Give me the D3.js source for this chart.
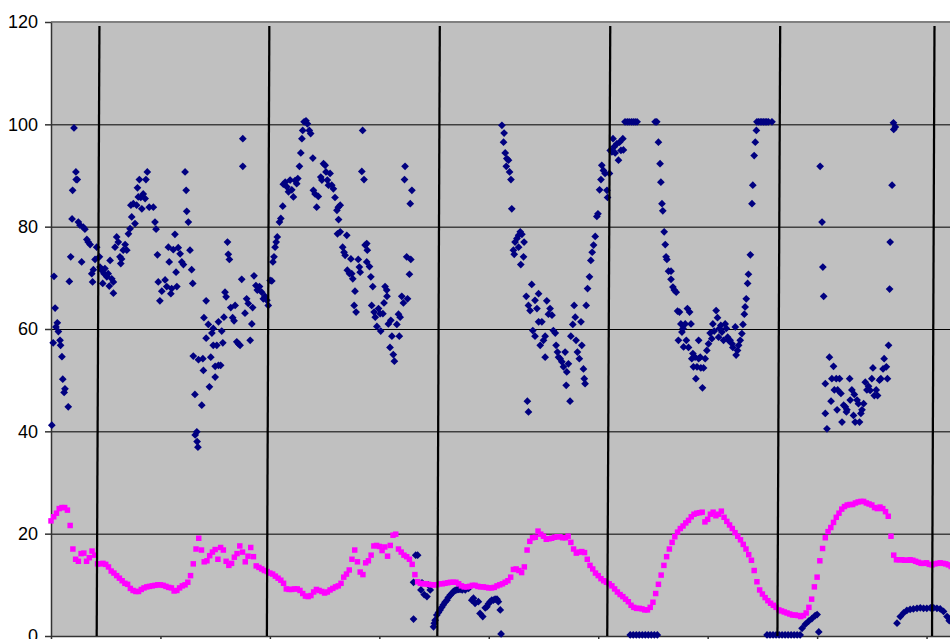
<!DOCTYPE html>
<html>
<head>
<meta charset="utf-8">
<script src="https://cdn.jsdelivr.net/npm/d3@7"></script>
<style>
  html, body { margin: 0; padding: 0; background: #ffffff; }
  svg { display: block; }
  .axis text { font-family: "Liberation Sans", Arial, sans-serif; font-size: 18px; fill: #000; }
</style>
</head>
<body>
<svg id="chart" width="950" height="639"></svg>
<script>
// Temperature readings, one per sample step (sample index = position in array)
const temperature = [
  22.5,23.3,24.0,24.9,25.1,25.1,24.6,21.6,17.0,15.0,
  14.6,16.1,16.2,14.6,15.3,16.6,15.8,14.1,14.1,14.2,
  14.0,13.5,12.7,12.3,11.8,11.3,10.8,10.3,10.1,9.3,
  8.9,8.7,8.7,9.1,9.4,9.6,9.7,9.8,9.9,10.0,
  10.0,9.9,9.7,9.5,9.4,8.8,8.9,9.4,9.8,10.0,
  10.5,11.8,14.1,17.0,19.1,16.8,14.5,14.7,15.7,16.4,
  16.9,15.0,17.3,16.8,14.6,13.8,14.2,15.4,16.1,17.6,
  16.4,14.5,15.6,17.3,15.5,13.7,13.4,13.1,12.8,12.6,
  12.3,12.1,11.7,11.3,10.9,10.3,9.2,9.1,9.1,9.2,
  9.2,8.9,8.3,7.8,7.7,7.9,8.6,9.1,8.9,8.7,
  8.4,8.6,9.0,9.3,9.6,9.8,10.3,11.5,12.1,12.9,
  15.0,16.8,14.5,12.5,12.0,14.3,14.7,15.8,17.6,17.7,
  17.5,16.7,17.4,15.6,17.7,19.7,19.9,17.0,16.4,15.8,
  15.5,15.0,14.0,12.0,10.6,10.3,10.2,10.2,10.1,10.0,
  10.0,10.0,10.2,10.2,10.3,10.4,10.5,10.5,10.5,10.2,
  9.8,9.6,9.6,9.7,9.9,9.9,9.7,9.6,9.6,9.5,
  9.4,9.4,9.5,9.8,10.0,10.2,10.5,10.8,11.5,13.0,
  13.1,12.8,12.4,13.5,16.8,18.5,19.2,19.3,20.5,19.9,
  19.5,18.9,19.0,19.1,19.3,19.4,19.4,19.2,19.2,19.5,
  18.3,17.0,16.2,16.4,16.5,16.3,15.0,13.8,13.1,12.3,
  11.8,11.2,10.8,10.5,10.2,9.8,9.2,8.6,8.1,7.7,
  7.2,6.7,6.0,5.6,5.4,5.4,5.3,5.1,5.1,5.6,
  6.6,8.3,10.1,11.9,13.8,15.5,17.0,18.3,19.4,20.3,
  21.0,21.5,22.1,22.6,23.3,23.8,24.0,24.1,24.2,22.3,
  22.8,23.8,24.2,23.5,23.8,24.4,23.2,22.4,21.7,21.0,
  20.2,19.5,18.8,17.9,17.0,15.9,14.8,12.8,10.6,9.0,
  8.2,7.5,6.9,6.4,6.0,5.6,5.1,4.9,4.7,4.5,
  4.3,4.1,4.1,4.0,3.8,4.0,4.5,5.6,7.2,9.6,
  11.5,14.7,17.1,19.2,20.4,21.2,22.2,23.2,24.0,24.8,
  25.3,25.6,25.7,25.7,26.0,26.2,26.3,26.3,26.0,25.8,
  25.6,25.1,24.9,25.2,24.9,24.3,23.4,19.5,15.8,14.9,
  14.9,14.9,14.8,14.8,14.9,14.8,14.6,14.4,14.2,14.2,
  14.3,14.0,13.9,14.1,14.2,14.3,14.2,14.1,13.9,13.6
];

// Humidity readings as [sample time, value]
const humidity = [
  [0.3,41.2],[0.8,57.3],[1.1,70.3],[1.5,64.1],[1.8,60.4],[2.3,61.2],[2.7,59.5],[3.3,57.8],[3.5,56.8],[4.0,54.6],
  [4.3,50.2],[4.8,47.6],[5.1,48.3],[6.3,44.8],[6.7,69.3],[7.2,74.1],[7.7,81.5],[7.9,87.1],[8.4,99.3],[9.1,90.7],
  [9.2,89.2],[9.6,89.2],[10.0,80.9],[10.6,80.3],[11.2,73.1],[11.8,79.9],[12.4,79.5],[13.1,77.5],[13.6,77.0],[14.3,76.5],
  [14.9,70.8],[15.2,69.2],[15.5,71.6],[16.1,73.6],[16.7,76.0],[17.7,74.1],[17.9,72.1],[18.5,71.5],[18.9,68.9],[19.4,70.8],
  [19.7,71.8],[20.4,70.2],[20.9,70.8],[21.3,68.4],[21.6,73.4],[22.2,69.8],[22.8,69.2],[22.8,67.0],[23.4,76.0],[24.0,78.0],
  [24.6,77.0],[25.2,74.1],[25.5,72.8],[25.8,73.7],[26.4,75.4],[27.1,76.5],[27.7,75.4],[28.3,78.6],[28.9,79.6],[29.2,84.2],
  [29.5,81.9],[30.1,84.5],[30.7,80.6],[31.3,84.2],[31.6,87.6],[31.9,85.8],[32.3,89.2],[32.8,85.7],[33.2,83.5],[33.7,86.4],
  [34.4,85.5],[34.7,89.2],[35.2,90.7],[35.9,83.8],[37.4,83.8],[38.0,80.9],[38.4,79.5],[38.9,74.5],[39.2,69.2],[39.8,65.5],
  [40.5,67.4],[41.7,69.6],[42.3,68.3],[42.9,76.0],[43.2,73.1],[43.8,66.9],[44.1,67.9],[44.7,75.5],[45.3,78.5],[45.7,71.1],
  [46.0,68.3],[46.5,75.9],[47.2,74.7],[47.8,73.1],[48.4,72.6],[49.0,90.7],[49.4,87.1],[49.6,83.0],[50.2,80.9],[50.8,75.4],
  [51.4,71.6],[51.8,68.9],[52.0,54.7],[52.6,47.2],[52.7,39.3],[53.3,39.9],[53.4,38.0],[53.7,36.9],[53.9,54.0],
  [55.1,45.1],[55.5,54.2],[55.7,51.9],[55.9,62.2],[56.7,65.5],[56.7,58.2],[57.5,60.9],[57.9,48.7],[58.4,54.5],[58.8,59.2],
  [59.3,60.1],[59.3,56.8],[60.0,52.7],[60.0,50.6],[60.6,56.8],[61.2,52.9],[61.2,61.4],[62.0,52.9],[62.4,59.6],[62.8,57.3],
  [63.2,62.3],[63.6,67.2],[64.0,66.3],[64.5,77.0],[64.8,74.6],[65.2,73.6],[65.7,64.2],[66.4,62.2],[66.9,61.6],[67.3,64.6],
  [67.9,57.5],[68.5,57.1],[69.1,56.8],[69.7,69.7],[70.1,97.2],[70.1,91.8],[70.9,63.1],[71.5,65.9],[72.1,65.0],[72.8,57.8],
  [73.4,61.0],[73.7,64.2],[74.2,70.4],[74.9,68.5],[75.4,67.6],[76.2,68.3],[77.0,67.2],[77.6,65.9],[78.2,66.4],[78.9,65.6],
  [79.4,64.6],[80.1,69.5],[80.7,69.4],[81.1,73.1],[81.5,74.1],[81.9,76.0],[82.3,77.0],[82.7,78.0],[83.5,80.9],[84.0,81.6],
  [84.7,84.0],[84.9,88.3],[85.6,88.7],[86.2,87.8],[86.8,86.8],[87.4,89.1],[88.0,87.2],[88.6,85.8],[89.2,89.0],[89.8,88.4],
  [90.2,89.4],[90.8,91.8],[91.3,94.4],[91.7,97.2],[92.0,98.8],[92.5,100.5],[93.2,100.7],[93.7,100.1],[94.4,98.8],[94.9,98.2],
  [95.7,93.4],[95.9,87.1],[96.5,86.4],[97.1,83.8],[97.7,85.9],[98.6,89.7],[99.0,89.1],[99.6,92.3],[100.2,92.0],[100.5,90.7],
  [101.0,89.1],[101.4,88.1],[102.0,90.4],[102.6,88.1],[103.2,87.4],[103.8,85.7],[104.5,83.2],[104.7,78.6],[105.0,83.8],[105.1,81.4],
  [105.7,84.2],[105.7,79.0],[106.6,76.0],[107.1,75.0],[107.5,74.4],[108.1,78.3],[108.3,71.5],[109.1,70.8],
  [109.6,73.7],[109.9,70.8],[110.3,69.8],[110.8,64.6],[111.1,67.4],[111.5,63.3],[112.3,73.6],[112.7,72.1],[113.0,71.1],[113.6,90.8],
  [113.9,98.8],[114.4,89.2],[114.8,76.4],[115.4,76.7],[115.6,75.4],[115.4,73.1],[116.4,72.2],[116.9,70.2],[117.2,64.6],[117.6,68.3],
  [118.1,63.3],[118.5,62.3],[119.1,60.5],[119.7,64.0],[120.3,63.0],[120.5,59.6],[121.3,63.0],[121.7,65.1],[122.1,68.3],[122.7,67.6],
  [122.8,66.4],[123.3,61.0],[123.9,56.4],[124.2,61.7],[124.6,58.6],[125.1,55.0],[125.5,53.7],[126.4,60.9],[127.0,62.9],[127.3,58.6],
  [127.6,62.3],[128.2,66.4],[128.8,65.1],[129.2,89.2],[129.4,91.8],[130.0,74.1],[130.3,65.9],[131.0,70.7],[131.3,84.5],[131.5,73.6],
  [131.9,87.1],
  [132.5,10.5],[132.5,3.3],[133.3,15.8],[134.0,15.8],[135.2,9.0],[135.6,10.4],[136.4,8.1],[137.4,7.7],[137.9,10.0],[138.6,9.0],
  [139.8,1.8],[140.1,2.5],[140.4,3.1],[141.0,4.1],[141.6,4.6],[142.2,5.1],[142.8,5.6],[143.4,6.1],[144.0,6.6],[144.7,7.0],
  [145.2,7.5],[145.9,8.0],[146.5,8.3],[147.1,8.7],[147.7,8.9],[148.3,9.0],[148.9,9.1],[149.5,9.1],[150.3,9.0],[151.4,9.0],
  [152.6,9.3],[153.8,7.0],[154.4,7.4],[155.0,6.4],[156.2,6.7],[156.8,4.4],[157.8,3.8],[158.7,5.5],[159.3,5.7],[159.9,6.3],
  [160.5,6.7],[161.1,7.0],[161.7,7.0],[162.3,7.2],[163.0,7.2],[163.5,6.7],[164.2,5.1],[164.5,0.4],
  [164.8,99.8],[165.4,96.5],[165.6,98.3],[166.0,94.4],[166.4,91.8],[166.6,93.3],[167.2,93.0],[167.6,90.7],[168.1,89.2],[168.4,83.5],
  [169.0,75.4],[169.3,74.6],[169.6,77.0],[170.3,77.7],[170.9,78.3],[170.9,76.0],[171.5,79.0],[171.7,72.6],[172.1,78.5],[172.7,74.1],
  [172.9,77.0],[173.7,66.4],[174.1,45.9],[174.5,43.8],[174.5,64.6],[175.1,63.6],[175.7,68.7],[176.1,59.7],[176.9,58.6],[176.9,65.6],
  [177.6,64.0],[178.2,66.9],[178.2,61.4],[178.8,56.8],[179.4,61.4],[180.0,57.8],[180.6,58.6],[180.6,54.5],[181.2,65.5],[181.8,62.9],
  [182.4,64.0],[183.1,62.7],[183.6,59.7],[184.3,59.2],[184.6,56.8],[185.1,55.5],[185.5,54.5],[186.1,54.2],[186.7,53.6],[187.3,52.6],
  [187.9,55.5],[188.3,49.0],[188.5,51.6],[189.1,53.2],[189.7,45.9],[190.0,58.6],[190.7,60.9],[191.2,64.6],[191.6,62.3],[191.9,57.8],
  [192.4,55.5],[193.1,54.2],[193.7,61.4],[194.0,56.8],[194.6,52.2],[194.9,50.3],[195.2,49.3],[195.6,64.6],[196.1,67.9],[196.8,70.2],
  [197.3,73.4],[197.8,75.0],[198.3,76.4],[198.9,78.1],[199.5,82.0],[199.9,82.5],[200.5,87.2],[201.0,89.2],[201.3,92.0],[201.9,91.0],
  [202.5,90.4],[203.2,87.1],[203.4,85.7],[204.1,90.4],[204.4,94.9],[205.0,94.6],[205.4,97.2],[205.8,95.6],[206.2,94.4],[206.8,96.2],
  [207.4,93.0],[207.8,96.5],[208.3,94.9],[209.0,97.2],[209.2,95.0],[209.8,100.5],[210.6,100.5],[211.3,100.5],[212.1,100.5],[212.8,100.5],
  [213.5,100.5],[214.2,100.5],
  [211.7,0.2],[212.8,0.2],[213.9,0.2],[215.0,0.2],[216.1,0.2],[217.2,0.2],[218.3,0.2],[219.4,0.2],[220.5,0.2],[221.6,0.2],
  [220.8,100.5],[221.4,100.5],[222.0,96.5],[222.6,92.3],[222.9,88.7],[223.3,84.5],[223.6,83.1],[224.1,79.0],[224.5,76.5],[224.8,74.1],
  [225.1,73.6],[225.7,71.3],[226.6,71.3],[226.6,69.7],[227.3,68.2],[227.8,67.6],[228.5,67.2],[229.0,63.5],[229.3,57.8],[229.7,63.3],
  [230.2,61.0],[230.6,59.4],[231.0,60.1],[231.2,56.5],[231.8,61.0],[232.2,57.8],[232.6,64.0],[233.0,56.4],[233.4,63.3],[233.9,61.0],
  [234.2,54.2],[234.6,55.2],[234.8,52.6],[235.4,54.5],[235.7,50.3],[236.1,52.6],[236.7,57.8],[236.7,54.2],[237.3,54.5],[237.5,52.4],
  [238.1,48.5],[238.5,52.4],[239.1,54.2],[239.7,55.8],[240.3,57.1],[240.9,59.2],[241.5,58.1],[241.9,61.0],[242.4,59.6],[243.1,63.6],
  [243.6,62.2],[244.0,58.4],[244.3,60.1],[244.8,60.7],[245.2,59.4],[245.8,57.8],[246.4,61.0],[246.8,60.1],[247.3,58.4],[247.6,57.8],
  [248.2,57.8],[248.9,57.1],[249.2,56.4],[250.1,60.4],[250.4,54.9],[250.9,55.8],[251.3,56.8],[251.9,57.8],[252.5,59.1],[252.9,60.9],
  [253.4,62.9],[253.7,64.3],[254.1,65.9],[254.6,68.9],[254.9,70.7],[255.6,74.5],[256.2,84.5],[256.5,88.1],[257.0,93.9],[257.4,96.5],
  [257.8,98.8],[258.0,100.5],[258.6,100.5],[259.2,100.5],[259.8,100.5],[260.4,100.5],[261.0,100.5],[261.6,100.5],[262.2,100.5],[263.5,100.5],
  [261.7,0.2],[262.8,0.2],[263.9,0.2],[265.0,0.2],[266.1,0.2],[267.2,0.2],[268.3,0.2],[269.4,0.2],[270.5,0.2],[271.6,0.2],
  [272.7,0.2],[273.8,0.2],
  [274.5,1.5],[275.7,2.3],[276.9,2.9],[278.1,3.4],[279.3,4.0],[280.0,4.2],[280.6,0.8],
  [281.1,91.8],[281.8,80.9],[282.1,72.1],[282.4,66.4],[283.0,49.3],[283.0,43.5],[283.6,40.5],[284.5,54.5],[285.1,45.9],[285.4,50.3],
  [286.0,52.7],[286.3,48.1],[287.0,50.3],[287.3,44.2],[287.5,48.1],[288.2,50.3],[288.7,47.4],[289.1,41.8],[289.7,45.1],[290.3,44.8],
  [290.7,43.8],[290.9,44.2],[291.9,50.3],[292.1,46.1],[292.7,48.1],[293.3,43.1],[293.6,47.2],[293.9,41.8],[294.6,46.1],[295.1,45.4],
  [295.5,41.8],[296.0,43.5],[296.4,44.2],[297.0,45.4],[297.6,49.6],[298.2,48.1],[298.8,48.8],[299.4,48.0],[300.0,50.3],[300.4,52.4],
  [300.9,47.0],[301.6,48.1],[302.1,47.0],[302.8,50.0],[303.3,50.3],[304.1,52.2],[304.5,54.2],[305.3,52.6],[305.7,50.3],[306.1,56.8],
  [306.5,67.8],[306.7,77.0],[307.4,88.1],[307.9,100.3],[308.0,99.0],[308.6,99.5],
  [309.2,2.5],[310.4,3.8],[311.6,4.5],[312.8,5.0],[314.0,5.2],[315.2,5.3],[316.5,5.4],[317.7,5.5],[318.9,5.4],[320.1,5.4],
  [321.4,5.5],[322.6,5.5],[323.8,5.4],[325.0,5.3],[326.2,4.8],[327.5,3.8],[328.3,3.0]
];

// Day boundary markers: sample time at the bottom (value 0) and at the top
const breakBottom = [16.7, 78.9, 141.2, 203.3, 265.5, 322.0];
const breakTop    = [17.7, 79.8, 142.1, 204.4, 266.5, 322.9];
const breakHigh = 119.2;

const yTicks = [0, 20, 40, 60, 80, 100, 120];
const xTickStep = 40;

const plot = { left: 51, top: 22, bottom: 636, right: 1036 };

const svg = d3.select("#chart");

const x = d3.scaleLinear().domain([0, 360]).range([plot.left, plot.right]);
const y = d3.scaleLinear().domain([0, 120]).range([plot.bottom, plot.top]);

// plot area
svg.append("rect")
  .attr("x", plot.left).attr("y", plot.top)
  .attr("width", plot.right - plot.left).attr("height", plot.bottom - plot.top)
  .attr("fill", "#c0c0c0");

svg.append("line")
  .attr("x1", plot.left).attr("x2", plot.right)
  .attr("y1", plot.top).attr("y2", plot.top)
  .attr("stroke", "#808080").attr("stroke-width", 2);

// horizontal gridlines
svg.append("g")
  .selectAll("line")
  .data(yTicks.filter(v => v > 0 && v < 120))
  .join("line")
  .attr("x1", plot.left).attr("x2", plot.right)
  .attr("y1", d => y(d) + 0.5).attr("y2", d => y(d) + 0.5)
  .attr("stroke", "#000").attr("stroke-width", 1);

// axes
const yAxis = svg.append("g")
  .attr("class", "axis")
  .attr("transform", `translate(${plot.left},0)`)
  .call(d3.axisLeft(y).tickValues(yTicks).tickSize(6).tickPadding(7).tickSizeOuter(0));
yAxis.selectAll("line, path").attr("stroke", "#333").attr("stroke-width", 1.5);

const xAxis = svg.append("g")
  .attr("class", "axis")
  .attr("transform", `translate(0,${plot.bottom})`)
  .call(d3.axisBottom(x).tickValues(d3.range(0, 361, xTickStep)).tickSize(6).tickFormat("").tickSizeOuter(0));
xAxis.selectAll("line, path").attr("stroke", "#333").attr("stroke-width", 1.5);

// humidity markers (navy diamonds)
const diamond = d3.symbol().type(d3.symbolSquare).size(30);
svg.append("g")
  .selectAll("path")
  .data(humidity)
  .join("path")
  .attr("d", diamond)
  .attr("transform", d => `translate(${x(d[0])},${y(d[1])}) rotate(45)`)
  .attr("fill", "#000080");

// temperature markers (magenta squares)
const square = d3.symbol().type(d3.symbolSquare).size(30);
svg.append("g")
  .selectAll("path")
  .data(temperature)
  .join("path")
  .attr("d", square)
  .attr("transform", (d, i) => `translate(${x(i)},${y(d)})`)
  .attr("fill", "#ff00ff");

// day boundary lines
svg.append("g")
  .selectAll("line")
  .data(d3.zip(breakBottom, breakTop))
  .join("line")
  .attr("x1", d => x(d[0])).attr("y1", y(0))
  .attr("x2", d => x(d[1])).attr("y2", y(breakHigh))
  .attr("stroke", "#000").attr("stroke-width", 2.25);
</script>
</body>
</html>
